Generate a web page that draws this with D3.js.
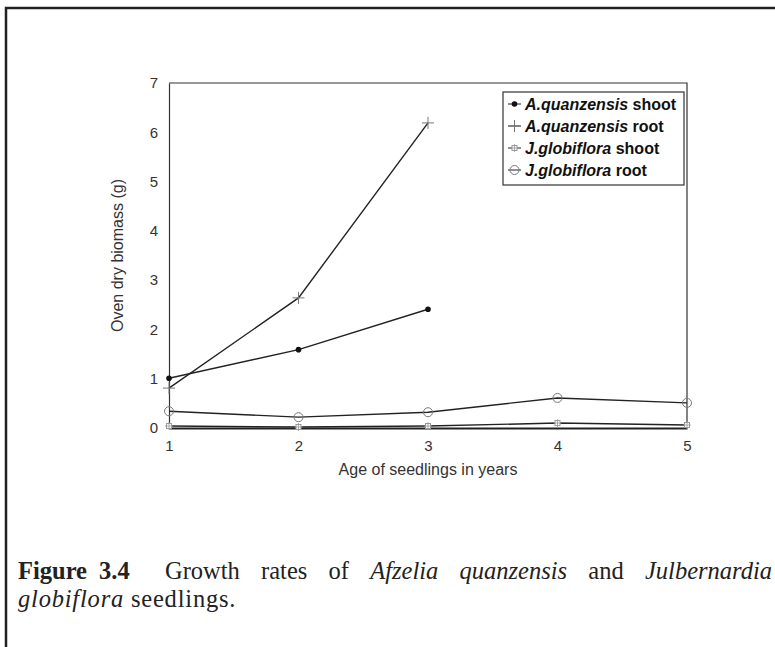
<!DOCTYPE html>
<html>
<head>
<meta charset="utf-8">
<script src="https://cdn.jsdelivr.net/npm/d3@7"></script>
<style>
  html, body { margin: 0; padding: 0; background: #fff; }
  #wrap { position: relative; width: 775px; height: 647px; overflow: hidden; }
  svg { position: absolute; left: 0; top: 0; }
  .cap {
    position: absolute; left: 18px; width: 754px; white-space: nowrap;
    font-family: "Liberation Serif", "Times New Roman", serif;
    font-size: 24.5px; line-height: 28px; color: #222;
  }
  #cap1 { top: 557px; text-align: justify; text-align-last: justify; white-space: normal; }
  #cap1 .fig { display: inline-block; font-weight: bold; margin-right: 14px; word-spacing: 6px; }
  #cap2 { top: 585px; text-align: left; letter-spacing: 0.8px; }
</style>
</head>
<body>
<div id="wrap">
<svg id="chart" width="775" height="647"></svg>
<div class="cap" id="cap1"><span class="fig">Figure 3.4</span> Growth rates of <i>Afzelia quanzensis</i> and <i>Julbernardia</i></div>
<div class="cap" id="cap2"><i>globiflora</i> seedlings.</div>
</div>
<script>
// ---- data ----
const years = [1, 2, 3, 4, 5];
const aqShoot = [1.01, 1.59, 2.41];
const aqRoot = [0.81, 2.64, 6.19];
const jgShoot = [0.04, 0.02, 0.04, 0.10, 0.06];
const jgRoot = [0.34, 0.22, 0.32, 0.61, 0.51];
const yTicks = [0, 1, 2, 3, 4, 5, 6, 7];
const xTicks = [1, 2, 3, 4, 5];
const seriesNames = ["A.quanzensis", "A.quanzensis", "J.globiflora", "J.globiflora"];
const seriesParts = ["shoot", "root", "shoot", "root"];
const yLabel = "Oven dry biomass (g)";
const xLabel = "Age of seedlings in years";

const svg = d3.select("#chart");

// outer frame (top & left edges)
svg.append("path").attr("d", "M6,647 V8 H775")
  .attr("fill", "none").attr("stroke", "#222").attr("stroke-width", 2.5);

const pL = 169, pR = 687, pT = 83, pB = 428;
const x = d3.scaleLinear().domain([1, 5]).range([pL, pR]);
const y = d3.scaleLinear().domain([0, 7]).range([pB, pT]);

// plot frame top and right
svg.append("path").attr("d", `M${pL},${pT} H${pR} V${pB}`)
  .attr("fill", "none").attr("stroke", "#333").attr("stroke-width", 1.2);

const fontSans = "'Liberation Sans', Arial, sans-serif";

const yAxis = svg.append("g").attr("transform", `translate(${pL},0)`)
  .call(d3.axisLeft(y).tickValues(yTicks).tickSize(0).tickPadding(11).tickFormat(d3.format("d")));
yAxis.select(".domain").attr("stroke", "#333").attr("stroke-width", 1.2);
yAxis.selectAll("text").attr("font-family", fontSans).attr("font-size", 15).attr("fill", "#333");

const xAxis = svg.append("g").attr("transform", `translate(0,${pB})`)
  .call(d3.axisBottom(x).tickValues(xTicks).tickSize(0).tickPadding(12).tickFormat(d3.format("d")));
xAxis.select(".domain").attr("stroke", "#222").attr("stroke-width", 2);
xAxis.selectAll("text").attr("font-family", fontSans).attr("font-size", 15).attr("fill", "#333");

svg.append("text").attr("transform", `translate(123,${(pT + pB) / 2}) rotate(-90)`)
  .attr("text-anchor", "middle").attr("font-family", fontSans).attr("font-size", 16)
  .attr("fill", "#333").text(yLabel);
svg.append("text").attr("x", (pL + pR) / 2).attr("y", 475)
  .attr("text-anchor", "middle").attr("font-family", fontSans).attr("font-size", 16)
  .attr("fill", "#333").text(xLabel);

const line = d3.line().x(d => x(d[0])).y(d => y(d[1]));
const series = [aqShoot, aqRoot, jgShoot, jgRoot].map(vals => vals.map((v, i) => [years[i], v]));

series.forEach(pts => {
  svg.append("path").datum(pts).attr("d", line)
    .attr("fill", "none").attr("stroke", "#222").attr("stroke-width", 1.4);
});

function marker(g, k, cx, cy) {
  if (k === 0) {
    g.append("circle").attr("cx", cx).attr("cy", cy).attr("r", 2.8).attr("fill", "#111");
  } else if (k === 1) {
    g.append("path").attr("d", `M${cx - 6},${cy} H${cx + 6} M${cx},${cy - 6} V${cy + 6}`)
      .attr("stroke", "#777").attr("stroke-width", 1);
  } else if (k === 2) {
    g.append("rect").attr("x", cx - 2.5).attr("y", cy - 2.5).attr("width", 5).attr("height", 5)
      .attr("fill", "#fff").attr("stroke", "#999").attr("stroke-width", 1);
    g.append("path").attr("d", `M${cx - 4},${cy} H${cx + 4} M${cx},${cy - 4} V${cy + 4}`)
      .attr("stroke", "#999").attr("stroke-width", 0.8);
  } else {
    g.append("circle").attr("cx", cx).attr("cy", cy).attr("r", 4.5)
      .attr("fill", "none").attr("stroke", "#777").attr("stroke-width", 1);
  }
}

const mg = svg.append("g");
series.forEach((pts, k) => pts.forEach(p => marker(mg, k, x(p[0]), y(p[1]))));

// legend
const lg = svg.append("g");
lg.append("rect").attr("x", 503).attr("y", 92).attr("width", 181).attr("height", 93)
  .attr("fill", "#fff").attr("stroke", "#333").attr("stroke-width", 1.2);
const rowY = [104, 126, 148, 170];
seriesNames.forEach((nm, k) => {
  const ry = rowY[k];
  lg.append("line").attr("x1", 508).attr("x2", 521).attr("y1", ry).attr("y2", ry)
    .attr("stroke", "#222").attr("stroke-width", 1);
  marker(lg, k, 514.5, ry);
  const t = lg.append("text").attr("x", 525).attr("y", ry).attr("dy", "0.36em")
    .attr("font-family", fontSans).attr("font-size", 16).attr("font-weight", "bold").attr("fill", "#111");
  t.append("tspan").attr("font-style", "italic").text(nm);
  t.append("tspan").text(" " + seriesParts[k]);
});
</script>
</body>
</html>
